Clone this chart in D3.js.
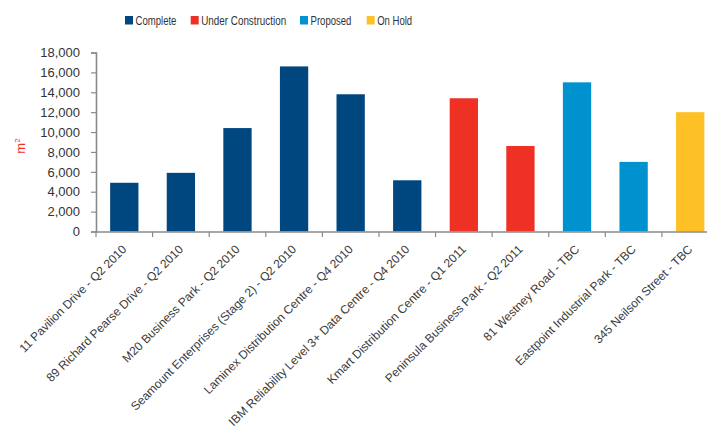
<!DOCTYPE html>
<html><head><meta charset="utf-8">
<script src="https://cdn.jsdelivr.net/npm/d3@7"></script>
<style>body{margin:0;background:#fff;overflow:hidden}svg{display:block}</style>
</head><body>
<svg id="c" width="707" height="432"></svg>
<script>
const categories = ["11 Pavilion Drive - Q2 2010","89 Richard Pearse Drive - Q2 2010","M20 Business Park - Q2 2010","Seamount Enterprises (Stage 2) - Q2 2010","Laminex Distribution Centre - Q4 2010","IBM Reliability Level 3+ Data Centre - Q4 2010","Kmart Distribution Centre - Q1 2011","Peninsula Business Park - Q2 2011","81 Westney Road - TBC","Eastpoint Industrial Park - TBC","345 Neilson Street - TBC"];
const values = [4900, 5900, 10400, 16600, 13800, 5150, 13400, 8600, 15000, 7000, 12000];
const statuses = ["Complete","Complete","Complete","Complete","Complete","Complete","Under Construction","Under Construction","Proposed","Proposed","On Hold"];
const seriesNames = ["Complete","Under Construction","Proposed","On Hold"];
const seriesColors = ["#00467F","#EE3124","#0092CF","#FDC126"];
const yTicks = [0,2000,4000,6000,8000,10000,12000,14000,16000,18000];

const svg = d3.select("#c");
const font = "'Liberation Sans', Arial, sans-serif";
const x = d3.scaleBand().domain(categories).range([96, 718.5]).paddingInner(0.5).paddingOuter(0.25);
const y = d3.scaleLinear().domain([0,18000]).range([231.5, 52.5]);
const color = d3.scaleOrdinal().domain(seriesNames).range(seriesColors);

// bars
svg.append("g").selectAll("rect").data(categories).join("rect")
  .attr("x", d => x(d)).attr("width", x.bandwidth())
  .attr("y", (d,i) => y(values[i])).attr("height", (d,i) => y(0) - y(values[i]))
  .attr("fill", (d,i) => color(statuses[i]));

// y axis
const ya = svg.append("g").attr("transform","translate(96,0)")
  .call(d3.axisLeft(y).tickValues(yTicks).tickFormat(d3.format(",")).tickSize(5).tickPadding(11));
ya.select(".domain").attr("stroke","#8a8a8a").attr("stroke-width",1.6);
ya.selectAll(".tick line").attr("stroke","#8a8a8a").attr("stroke-width",1.2);
ya.selectAll("text").attr("font-family",font).attr("font-size",13).attr("fill","#333");

// x axis
const xa = svg.append("g").attr("transform","translate(0,231.5)")
  .call(d3.axisBottom(x).tickSize(0).tickSizeOuter(0).tickFormat(""));
xa.select(".domain").attr("stroke","#8a8a8a").attr("stroke-width",1.6);
xa.selectAll(".tick").remove();
// boundary ticks
const bounds = categories.map(c => x(c) - x.step()*x.paddingInner()/2);
svg.append("g").selectAll("line").data(bounds).join("line")
  .attr("x1", d=>d).attr("x2", d=>d).attr("y1", 231.5).attr("y2", 237)
  .attr("stroke","#8a8a8a").attr("stroke-width",1.2);

// x labels
svg.append("g").selectAll("text").data(categories).join("text")
  .attr("transform", d => `translate(${x(d)+x.bandwidth()/2+3},${250}) rotate(-45)`)
  .attr("text-anchor","end").attr("font-family",font).attr("font-size",12).attr("fill","#3a3a3a")
  .text(d => d);

// y title
svg.append("text").attr("transform","translate(25,146) rotate(-90)")
  .attr("text-anchor","middle").attr("font-family",font).attr("font-size",13).attr("fill","#EE3124")
  .text("m").append("tspan").attr("font-size",8).attr("dy",-5).text("2");

// legend
const legX = [125, 190.7, 300, 366.7];
const legW = [41, 85, 41, 35];
const lg = svg.append("g").selectAll("g").data(seriesNames).join("g")
  .attr("transform",(d,i)=>`translate(${legX[i]},16)`);
lg.append("rect").attr("width",8).attr("height",8.5).attr("fill",d=>color(d));
lg.append("text").attr("font-family",font).attr("font-size",13.5).attr("fill","#333")
  .text(d=>d)
  .each(function(d,i){
    const w = this.getComputedTextLength();
    d3.select(this).attr("transform",`translate(10.5,8.5) scale(${legW[i]/w},1)`);
  });
</script>
</body></html>
